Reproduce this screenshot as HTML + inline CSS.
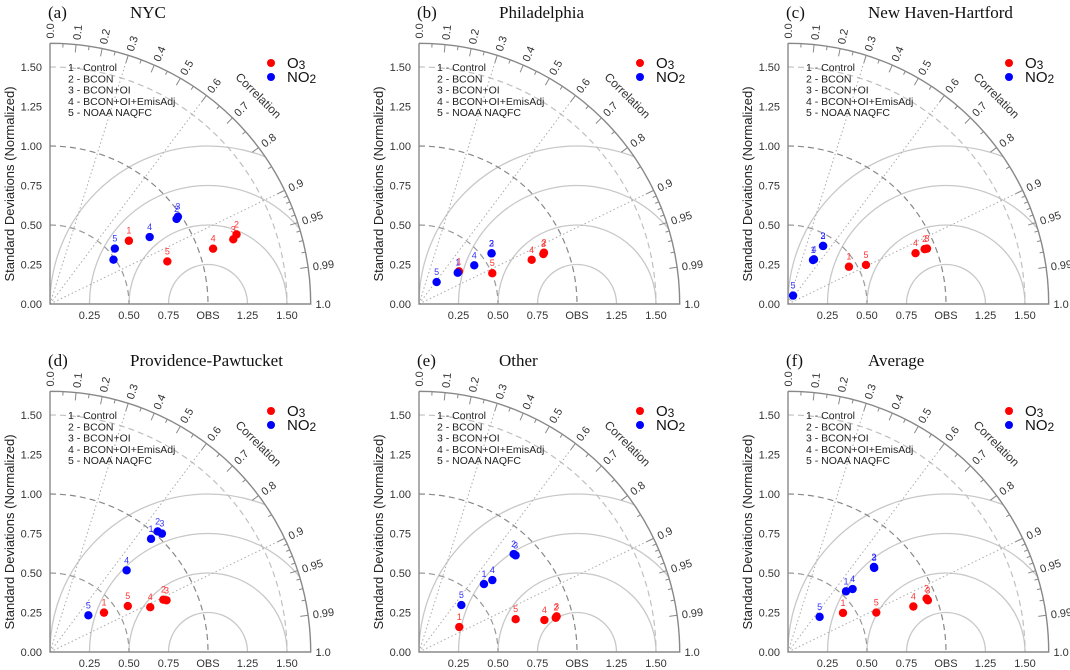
<!DOCTYPE html>
<html><head><meta charset="utf-8">
<style>
html,body{margin:0;padding:0;background:#fff;overflow:hidden;}
svg{display:block;font-family:"Liberation Sans",sans-serif;}
</style></head>
<body>
<svg id="chart" width="1070" height="670" viewBox="0 0 1070 670" xmlns="http://www.w3.org/2000/svg"></svg>
<script>
// Panel data: normalized standard deviation and correlation for models 1..5
const modelLabels = ["1","2","3","4","5"];
const legendModels = ["1 - Control","2 - BCON","3 - BCON+OI","4 - BCON+OI+EmisAdj","5 - NOAA NAQFC"];
const stdTicks = [0.25,0.50,0.75,1.25,1.50];
const yTicks = [0,0.25,0.5,0.75,1.0,1.25,1.5];
const corrMajor = [0,0.1,0.2,0.3,0.4,0.5,0.6,0.7,0.8,0.9,0.95,0.99];

const nycO3Std = [0.64,1.26,1.23,1.09,0.79];
const nycO3Corr = [0.78,0.937,0.943,0.947,0.94];
const nycNO2Std = [0.49,0.965,0.98,0.76,0.54];
const nycNO2Corr = [0.82,0.83,0.826,0.83,0.76];

const phlO3Std = [0.327,0.855,0.848,0.766,0.503];
const phlO3Corr = [0.774,0.925,0.928,0.931,0.922];
const phlNO2Std = [0.315,0.56,0.56,0.427,0.178];
const phlNO2Corr = [0.778,0.82,0.82,0.819,0.627];

const nhhO3Std = [0.452,0.932,0.947,0.869,0.552];
const nhhO3Corr = [0.853,0.928,0.929,0.929,0.894];
const nhhNO2Std = [0.32,0.429,0.429,0.327,0.062];
const nhhNO2Corr = [0.494,0.517,0.517,0.503,0.516];

const pvdO3Std = [0.423,0.79,0.807,0.695,0.572];
const pvdO3Corr = [0.808,0.908,0.914,0.913,0.861];
const pvdNO2Std = [0.96,1.023,1.031,0.709,0.336];
const pvdNO2Corr = [0.666,0.666,0.687,0.684,0.723];

const othO3Std = [0.30,0.892,0.90,0.819,0.646];
const othO3Corr = [0.85,0.97,0.968,0.969,0.947];
const othNO2Std = [0.595,0.862,0.865,0.65,0.40];
const othNO2Corr = [0.691,0.695,0.707,0.714,0.67];

const avgO3Std = [0.427,0.94,0.944,0.844,0.612];
const avgO3Corr = [0.815,0.933,0.938,0.94,0.913];
const avgNO2Std = [0.531,0.765,0.762,0.571,0.299];
const avgNO2Corr = [0.691,0.711,0.716,0.716,0.669];

const svg = document.getElementById('chart');
const NS = "http://www.w3.org/2000/svg";
function mk(tag, attrs, parent){
  const e = document.createElementNS(NS, tag);
  for (const k in attrs) e.setAttribute(k, attrs[k]);
  (parent||svg).appendChild(e);
  return e;
}
const S = 158, RMAX = 1.65;
let clipId = 0;

function drawPanel(ox, oy, letter, title, o3s, o3c, no2s, no2c, key){
  const g = mk('g', {});
  
  
  const px = (x)=> ox + x*S, py = (y)=> oy - y*S;
  const pol = (r,c)=>{ const th=Math.acos(c); return [ox + r*S*Math.cos(th), oy - r*S*Math.sin(th)]; };
  const R = RMAX*S;

  const tl = mk('text', {x:ox-2, y:oy-286, 'font-family':'Liberation Serif, serif', 'font-size':17, fill:'#111'}, g);
  tl.textContent = '(' + letter + ')';
  
  
  const tt = mk('text', {x:ox+80, y:oy-286, 'font-family':'Liberation Serif, serif', 'font-size':17, fill:'#111'}, g);
  tt.textContent = title;
  
  

  const cid = 'clip' + (clipId++);
  const cp = mk('clipPath', {id:cid}, g);
  mk('path', {d:`M${ox},${oy} L${ox+R},${oy} A${R},${R} 0 0 0 ${ox},${oy-R} Z`}, cp);
  const rg = mk('g', {'clip-path':`url(#${cid})`}, g);
  [0.25,0.5,0.75,1.0].forEach(r=>{
    const c = mk('circle', {cx:px(1), cy:oy, r:r*S, fill:'none', stroke:'#c8c8c8', 'stroke-width':1.3}, rg);
    
    
  });

  [[0.5,'#999'],[1.0,'#888'],[1.5,'#c0c0c0']].forEach(([r,col])=>{
    const a = mk('path', {d:`M${ox},${py(r)} A${r*S},${r*S} 0 0 1 ${px(r)},${oy}`, fill:'none', stroke:col, 'stroke-width':1.2, 'stroke-dasharray':'6,4'}, g);
    
    
  });
  [0.3,0.6,0.9].forEach(c=>{
    const p = pol(RMAX, c);
    const l = mk('line', {x1:ox, y1:oy, x2:p[0], y2:p[1], stroke:'#aaa', 'stroke-width':1, 'stroke-dasharray':'1.5,2.5'}, g);
    
    
  });

  const ax = mk('path', {d:`M${ox},${oy-R} L${ox},${oy} L${ox+R},${oy} A${R},${R} 0 0 0 ${ox},${oy-R}`, fill:'none', stroke:'#888', 'stroke-width':1.4}, g);
  
  

  yTicks.forEach(v=>{
    const t = mk('text', {x:ox-8, y:py(v)+4, 'text-anchor':'end', 'font-size':11, fill:'#333'}, g);
    t.textContent = v.toFixed(2);
    
    
  });
  stdTicks.forEach(v=>{
    const t = mk('text', {x:px(v), y:oy+15, 'text-anchor':'middle', 'font-size':11, fill:'#333'}, g);
    t.textContent = v.toFixed(2);
    
    
  });
  const ob = mk('text', {x:px(1), y:oy+15, 'text-anchor':'middle', 'font-size':11, fill:'#333'}, g);
  ob.textContent = 'OBS';
  
  
  const yt = mk('text', {x:0, y:0, 'text-anchor':'middle', 'font-size':13, fill:'#222', transform:`translate(${ox-36},${oy-120}) rotate(-90)`}, g);
  yt.textContent = 'Standard Deviations (Normalized)';
  
  

  const minor = [0.05,0.15,0.25,0.35,0.45,0.55,0.65,0.75,0.85,0.91,0.92,0.93,0.94,0.96,0.97,0.98];
  minor.forEach(c=>{
    const a = pol(RMAX,c), b = pol(RMAX-0.025,c);
    mk('line', {x1:a[0],y1:a[1],x2:b[0],y2:b[1],stroke:'#888','stroke-width':1}, g);
  });
  corrMajor.concat([1.0]).forEach(c=>{
    const a = pol(RMAX,c), b = pol(RMAX-0.05,c);
    if (c>0 && c<1) mk('line', {x1:a[0],y1:a[1],x2:b[0],y2:b[1],stroke:'#888','stroke-width':1}, g);
    const p = pol(RMAX+0.03, c);
    const th = Math.acos(c)*180/Math.PI;
    const t = mk('text', {x:0, y:0, 'font-size':11, fill:'#333', transform:`translate(${p[0]},${p[1]}) rotate(${-th}) translate(0,4)`}, g);
    t.textContent = (c===0.95||c===0.99)? c.toFixed(2) : c.toFixed(1);
    
    
  });
  const cth = 45*Math.PI/180, cr = R+30;
  const ct = mk('text', {x:0, y:0, 'text-anchor':'middle', 'font-size':12, fill:'#333', transform:`translate(${ox+cr*Math.cos(cth)},${oy-cr*Math.sin(cth)}) rotate(45)`}, g);
  ct.textContent = 'Correlation';
  
  

  legendModels.forEach((s,i)=>{
    const t = mk('text', {x:ox+18, y:oy-233+i*11.3, 'font-size':10.5, fill:'#222'}, g);
    t.textContent = s;
    
    
  });
  [['O','3','#ff0000',0],['NO','2','#0000ff',1]].forEach(([a,b,col,i])=>{
    const lg = mk('g', {}, g);
    
    
    mk('circle', {cx:ox+221, cy:oy-241+i*14, r:4, fill:col}, lg);
    const t = mk('text', {x:ox+237, y:oy-236+i*14, 'font-size':15, fill:'#111'}, lg);
    t.textContent = a;
    const ts = mk('tspan', {'font-size':12, dy:1}, t);
    ts.textContent = b;
  });

  const series = [[o3s,o3c,'#ff0000','o3'],[no2s,no2c,'#0000ff','no2']];
  series.forEach(([ss,cc,col,nm])=>{
    ss.forEach((s,i)=>{
      const p = pol(s, cc[i]);
      const c = mk('circle', {cx:p[0], cy:p[1], r:4.2, fill:col}, g);
      
      
      const t = mk('text', {x:p[0], y:p[1]-7, 'text-anchor':'middle', 'font-size':9, fill:col, opacity:0.8}, g);
      t.textContent = modelLabels[i];
      
      
    });
  });
}

drawPanel(50, 304, 'a', 'NYC', nycO3Std, nycO3Corr, nycNO2Std, nycNO2Corr, 'nyc');
drawPanel(419, 304, 'b', 'Philadelphia', phlO3Std, phlO3Corr, phlNO2Std, phlNO2Corr, 'philadelphia');
drawPanel(788, 304, 'c', 'New Haven-Hartford', nhhO3Std, nhhO3Corr, nhhNO2Std, nhhNO2Corr, 'new-haven-hartford');
drawPanel(50, 652, 'd', 'Providence-Pawtucket', pvdO3Std, pvdO3Corr, pvdNO2Std, pvdNO2Corr, 'providence-pawtucket');
drawPanel(419, 652, 'e', 'Other', othO3Std, othO3Corr, othNO2Std, othNO2Corr, 'other');
drawPanel(788, 652, 'f', 'Average', avgO3Std, avgO3Corr, avgNO2Std, avgNO2Corr, 'average');
</script>
</body></html>
